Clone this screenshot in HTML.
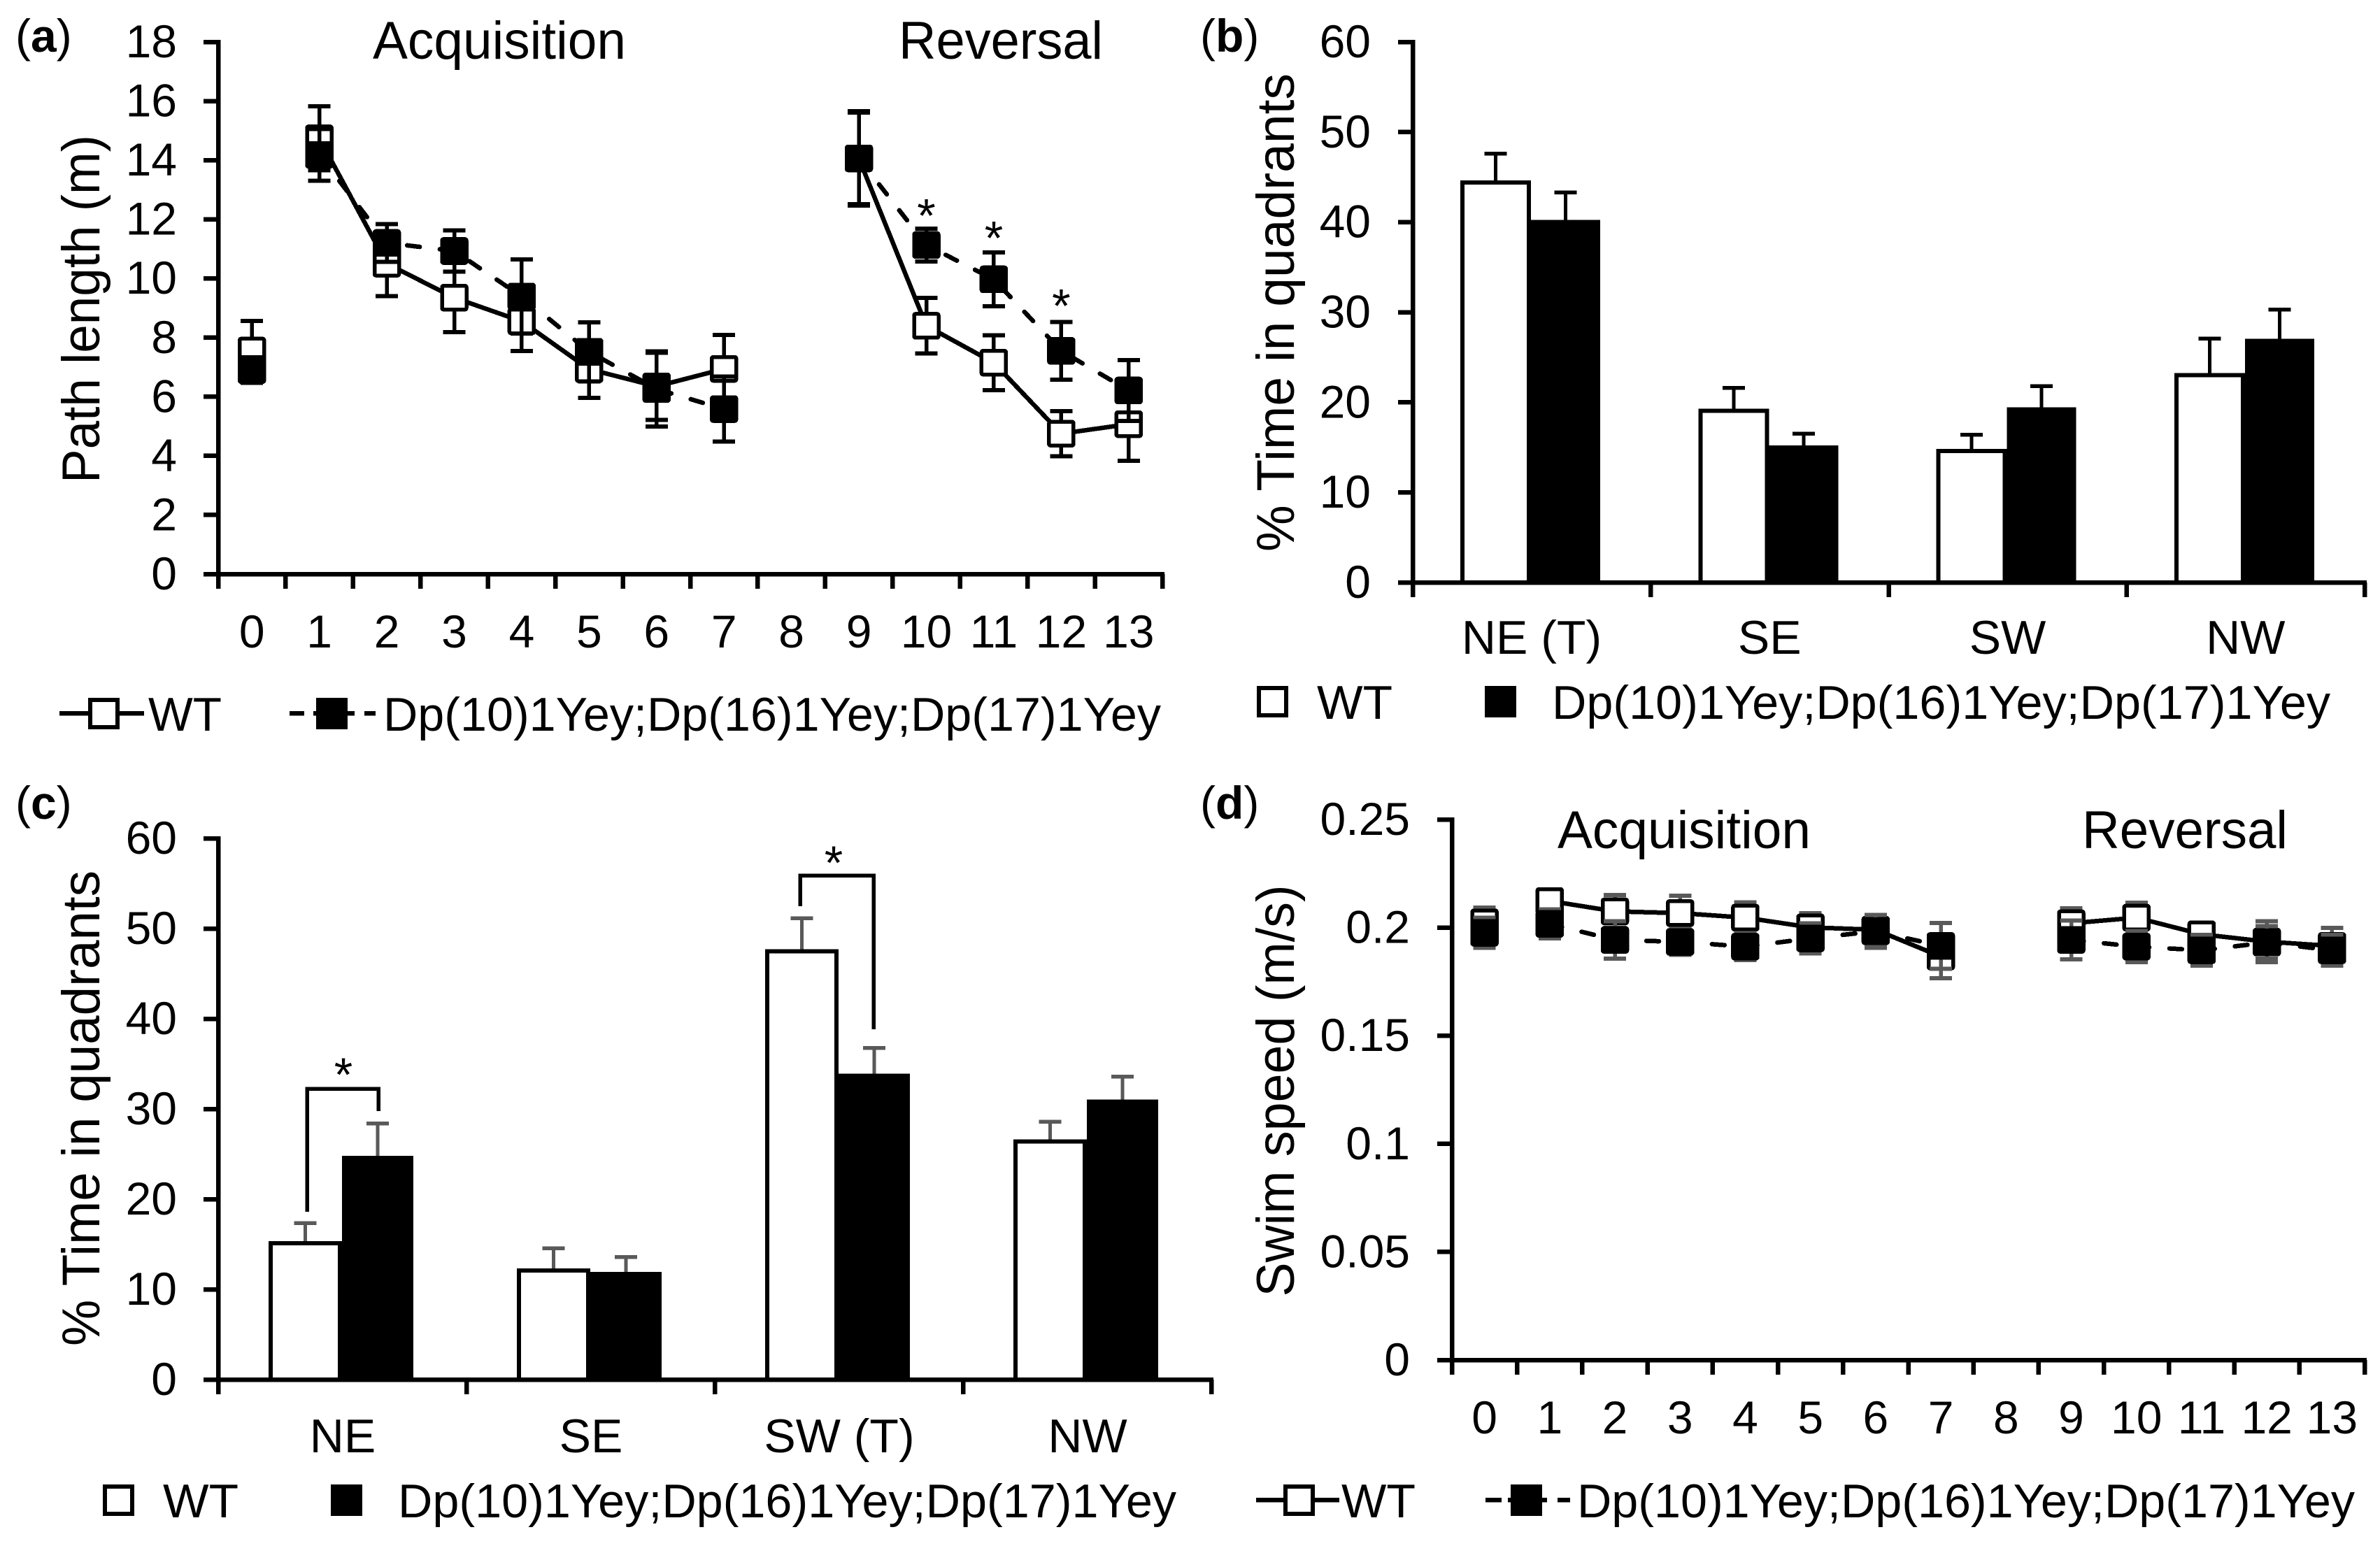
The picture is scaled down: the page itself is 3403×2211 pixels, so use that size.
<!DOCTYPE html>
<html>
<head>
<meta charset="utf-8">
<title>Path length, quadrant time and swim speed panels</title>
<style>
html,body{margin:0;padding:0;background:#fff;}
svg{display:block;}
text{font-family:"Liberation Sans",sans-serif;fill:#000;}
</style>
</head>
<body>
<svg id="fig" xmlns="http://www.w3.org/2000/svg" width="3403" height="2211" viewBox="0 0 3403 2211">
<rect x="0" y="0" width="3403" height="2211" fill="#fff"/>

<text x="22" y="74" font-size="66">(<tspan font-weight="bold">a</tspan>)</text>
<text x="1716" y="74" font-size="66">(<tspan font-weight="bold">b</tspan>)</text>
<text x="22" y="1171" font-size="66">(<tspan font-weight="bold">c</tspan>)</text>
<text x="1716" y="1171" font-size="66">(<tspan font-weight="bold">d</tspan>)</text>

<text transform="translate(142,442) rotate(-90)" text-anchor="middle" font-size="76" textLength="498" lengthAdjust="spacingAndGlyphs">Path length (m)</text>
<text transform="translate(1850,447) rotate(-90)" text-anchor="middle" font-size="76" textLength="684" lengthAdjust="spacingAndGlyphs">% Time in quadrants</text>
<text transform="translate(142,1585) rotate(-90)" text-anchor="middle" font-size="76" textLength="680" lengthAdjust="spacingAndGlyphs">% Time in quadrants</text>
<text transform="translate(1850,1560) rotate(-90)" text-anchor="middle" font-size="76" textLength="589" lengthAdjust="spacingAndGlyphs">Swim speed (m/s)</text>

<text x="533" y="84" font-size="76" textLength="362" lengthAdjust="spacingAndGlyphs">Acquisition</text>
<text x="1285" y="84" font-size="76" textLength="292" lengthAdjust="spacingAndGlyphs">Reversal</text>
<text x="2227" y="1213" font-size="76" textLength="362" lengthAdjust="spacingAndGlyphs">Acquisition</text>
<text x="2977" y="1213" font-size="76" textLength="294" lengthAdjust="spacingAndGlyphs">Reversal</text>

<!-- Legend a -->
<g shape-rendering="crispEdges">
  <line x1="85" y1="1020" x2="206" y2="1020" stroke="#000" stroke-width="6.5"/>
  <rect x="129" y="1001" width="39" height="39" fill="#fff" stroke="#000" stroke-width="6"/>
  <text x="212" y="1045" font-size="68" textLength="105" lengthAdjust="spacingAndGlyphs">WT</text>
  <line x1="414" y1="1020" x2="435" y2="1020" stroke="#000" stroke-width="6.5"/>
  <line x1="448" y1="1020" x2="507" y2="1020" stroke="#000" stroke-width="6.5"/>
  <rect x="452" y="998" width="45" height="45" fill="#000"/>
  <line x1="521" y1="1020" x2="537" y2="1020" stroke="#000" stroke-width="6.5"/>
  <text x="548" y="1045" font-size="68" textLength="1112" lengthAdjust="spacingAndGlyphs">Dp(10)1Yey;Dp(16)1Yey;Dp(17)1Yey</text>
</g>
<!-- Legend b -->
<g shape-rendering="crispEdges">
  <rect x="1800" y="984" width="39" height="39" fill="#fff" stroke="#000" stroke-width="6"/>
  <text x="1883" y="1028" font-size="68" textLength="108" lengthAdjust="spacingAndGlyphs">WT</text>
  <rect x="2123" y="981" width="45" height="45" fill="#000"/>
  <text x="2219" y="1028" font-size="68" textLength="1113" lengthAdjust="spacingAndGlyphs">Dp(10)1Yey;Dp(16)1Yey;Dp(17)1Yey</text>
</g>
<!-- Legend c -->
<g shape-rendering="crispEdges">
  <rect x="150" y="2126" width="39" height="39" fill="#fff" stroke="#000" stroke-width="6"/>
  <text x="233" y="2170" font-size="68" textLength="108" lengthAdjust="spacingAndGlyphs">WT</text>
  <rect x="473" y="2123" width="45" height="45" fill="#000"/>
  <text x="569" y="2170" font-size="68" textLength="1113" lengthAdjust="spacingAndGlyphs">Dp(10)1Yey;Dp(16)1Yey;Dp(17)1Yey</text>
</g>
<!-- Legend d -->
<g shape-rendering="crispEdges">
  <line x1="1796" y1="2145" x2="1915" y2="2145" stroke="#000" stroke-width="6.5"/>
  <rect x="1838" y="2126" width="39" height="39" fill="#fff" stroke="#000" stroke-width="6"/>
  <text x="1918" y="2170" font-size="68" textLength="106" lengthAdjust="spacingAndGlyphs">WT</text>
  <line x1="2124" y1="2145" x2="2147" y2="2145" stroke="#000" stroke-width="6.5"/>
  <line x1="2156" y1="2145" x2="2212" y2="2145" stroke="#000" stroke-width="6.5"/>
  <rect x="2160" y="2123" width="45" height="45" fill="#000"/>
  <line x1="2227" y1="2145" x2="2245" y2="2145" stroke="#000" stroke-width="6.5"/>
  <text x="2255" y="2170" font-size="68" textLength="1112" lengthAdjust="spacingAndGlyphs">Dp(10)1Yey;Dp(16)1Yey;Dp(17)1Yey</text>
</g>
</svg>

<script>
var dayLabels = ['0','1','2','3','4','5','6','7','8','9','10','11','12','13'];
var lineSegments = [[1,2,3,4,5,6,7],[9,10,11,12,13]];

var aTicks = ['0','2','4','6','8','10','12','14','16','18'];
var aWt = [7.56,14.74,10.5,9.35,8.55,6.93,6.35,6.94,null,14.06,8.4,7.15,4.75,5.07];
var aWtErr = [1.0,1.08,1.1,1.17,1.0,0.97,1.14,1.15,null,1.55,0.94,0.93,0.76,1.24];
var aKo = [6.9,14.18,11.2,10.93,9.39,7.52,6.26,5.58,null,14.06,11.13,9.97,7.55,6.21];
var aKoErr = [0.43,0.88,0.64,0.7,1.25,1.0,1.27,1.1,null,1.6,0.56,0.91,0.98,1.03];
var aStarDays = [10,11,12];
var aStarValues = [12.45,11.7,9.4];

var dTicks = ['0','0.05','0.1','0.15','0.2','0.25'];
var dWt = [0.2024,0.2123,0.2075,0.2067,0.2046,0.2001,0.199,0.1866,null,0.202,0.2046,0.1969,0.1935,0.1915];
var dWtErr = [0.0068,0.004,0.0075,0.008,0.007,0.0065,0.0066,0.01,null,0.0069,0.0069,0.004,0.0095,0.0083];
var dKo = [0.1976,0.2017,0.1943,0.1934,0.1912,0.195,0.1983,0.1915,null,0.1943,0.1912,0.1895,0.1931,0.1895];
var dKoErr = [0.0069,0.0067,0.0087,0.006,0.0062,0.007,0.0076,0.0106,null,0.009,0.0072,0.0071,0.0075,0.0071];

var barTicks = ['0','10','20','30','40','50','60'];
var bCategories = ['NE (T)','SE','SW','NW'];
var bWt = [44.4,19.05,14.6,23.0];
var bWtErr = [3.2,2.55,1.8,4.06];
var bKo = [40.0,15.0,19.2,26.8];
var bKoErr = [3.3,1.5,2.6,3.5];

var cCategories = ['NE','SE','SW (T)','NW'];
var cWt = [15.1,12.1,47.5,26.4];
var cWtErr = [2.26,2.46,3.65,2.2];
var cKo = [24.56,11.7,33.7,30.8];
var cKoErr = [3.84,1.87,3.06,2.8];

var NS = 'http://www.w3.org/2000/svg';
var fig = document.getElementById('fig');

function mk(tag, attrs, parent) {
  var el = document.createElementNS(NS, tag);
  for (var k in attrs) { el.setAttribute(k, attrs[k]); }
  (parent || fig).appendChild(el);
  return el;
}
function group(parent) {
  return mk('g', {'shape-rendering':'crispEdges'}, parent);
}
function hLine(p, x1, x2, y, color, w) {
  return mk('line', {x1:x1, x2:x2, y1:y, y2:y, stroke:color, 'stroke-width':w}, p);
}
function vLine(p, x, y1, y2, color, w) {
  return mk('line', {x1:x, x2:x, y1:y1, y2:y2, stroke:color, 'stroke-width':w}, p);
}

function drawAxes(cfg, key) {
  var g = group();
  
  
  var yAxis = vLine(g, cfg.x0, cfg.yTop - 3, cfg.yBot + 3, '#000', 6.5);
  
  
  var xAxis = hLine(g, cfg.x0 - 21, cfg.x1 + 3, cfg.yBot, '#000', 6.5);
  
  
  cfg.ticks.forEach(function (t, i) {
    var y = cfg.yBot - (cfg.yBot - cfg.yTop) * i / (cfg.ticks.length - 1);
    var tk = hLine(g, cfg.x0 - 21, cfg.x0, y, '#000', 6.5);
    
    
    var lb = mk('text', {x:cfg.labelRight, y:y + 22, 'font-size':66, 'text-anchor':'end'});
    lb.textContent = t;
    
    
  });
  var step = (cfg.x1 - cfg.x0) / cfg.categories.length;
  for (var i = 0; i <= cfg.categories.length; i++) {
    var tx = vLine(g, cfg.x0 + step * i, cfg.yBot, cfg.yBot + 21, '#000', 6.5);
    
    
  }
}

function drawSeries(cfg, key, name, vals, errs, isKo) {
  var step = (cfg.x1 - cfg.x0) / vals.length;
  function X(i) { return cfg.x0 + step * (i + 0.5); }
  function Y(v) { return cfg.yBot - (cfg.yBot - cfg.yTop) * v / cfg.max; }
  var g = group();
  
  
  lineSegments.forEach(function (seg) {
    var d = seg.map(function (i, n) { return (n ? 'L' : 'M') + X(i) + ' ' + Y(vals[i]); }).join(' ');
    var path = mk('path', {d:d, fill:'none', stroke:'#000', 'stroke-width':6.5,
      'stroke-linejoin':'round', 'stroke-linecap': isKo ? 'round' : 'butt',
      'stroke-dasharray': isKo ? '18 29' : 'none'}, g);
    
    
  });
  vals.forEach(function (v, i) {
    if (v === null) return;
    var x = X(i), hi = Y(v + errs[i]), lo = Y(v - errs[i]);
    var stem = vLine(g, x, hi, lo, cfg.errColor, 5.5);
    
    
    var capT = hLine(g, x - 16, x + 16, hi, cfg.errColor, 6);
    
    
    var capB = hLine(g, x - 16, x + 16, lo, cfg.errColor, 6);
    
    
  });
  vals.forEach(function (v, i) {
    if (v === null) return;
    var m = mk('rect', {x:X(i) - 17.5, y:Y(v) - 17, width:35, height:34, rx:2,
      fill: isKo ? '#000' : '#fff', stroke:'#000', 'stroke-width':5.5}, g);
    
    
  });
}

function drawLinePanel(cfg, key, wt, wtE, ko, koE) {
  drawAxes(cfg, key);
  drawSeries(cfg, key, 'wt', wt, wtE, false);
  drawSeries(cfg, key, 'ko', ko, koE, true);
  var step = (cfg.x1 - cfg.x0) / cfg.categories.length;
  cfg.categories.forEach(function (c, i) {
    var t = mk('text', {x:cfg.x0 + step * (i + 0.5), y:cfg.xLabelY, 'font-size':66, 'text-anchor':'middle'});
    t.textContent = c;
    
    
  });
}

function drawBarPanel(cfg, key, wt, wtE, ko, koE) {
  var step = (cfg.x1 - cfg.x0) / cfg.categories.length;
  function Y(v) { return cfg.yBot - (cfg.yBot - cfg.yTop) * v / cfg.max; }
  var g = group();
  
  
  cfg.categories.forEach(function (c, i) {
    var left = cfg.x0 + step * i + cfg.pad;
    [[wt[i], wtE[i], left, cfg.wtW, '#fff', 'wt'], [ko[i], koE[i], left + cfg.wtW, cfg.koW, '#000', 'ko']].forEach(function (s) {
      var w = s[3], xc = s[2] + w / 2, top = Y(s[0]), hi = Y(s[0] + s[1]);
      var stem = vLine(g, xc, hi, top, cfg.errColor, 5);
      
      
      var cap = hLine(g, xc - 16, xc + 16, hi, cfg.errColor, 5.5);
      
      
      var bar = mk('rect', {x:s[2] + 3, y:top, width:w - 6, height:cfg.yBot - top, fill:s[4], stroke:'#000', 'stroke-width':6}, g);
      
      
    });
    var t = mk('text', {x:cfg.x0 + step * i + cfg.labelOffset, y:cfg.xLabelY, 'font-size':68, 'text-anchor':'middle'});
    t.textContent = c;
    
    
  });
  drawAxes(cfg, key);
}

function star(x, y, nm) {
  var t = mk('text', {x:x, y:y + 37, 'font-size':68, 'text-anchor':'middle'});
  t.textContent = '*';
  
  
}
function bracket(x1, yb1, x2, yb2, yt, nm) {
  var p = mk('path', {d:'M' + x1 + ' ' + yb1 + ' V' + yt + ' H' + x2 + ' V' + yb2, fill:'none', stroke:'#000', 'stroke-width':5.5, 'shape-rendering':'crispEdges'});
  
  
}

var cfgA = {x0:312, x1:1662, yTop:60, yBot:821, max:18, ticks:aTicks, categories:dayLabels, labelRight:253, xLabelY:926, errColor:'#000'};
drawLinePanel(cfgA, 'panel-a', aWt, aWtErr, aKo, aKoErr);
aStarDays.forEach(function (d, i) {
  var sx = cfgA.x0 + (cfgA.x1 - cfgA.x0) / dayLabels.length * (d + 0.5);
  var sy = cfgA.yBot - (cfgA.yBot - cfgA.yTop) * aStarValues[i] / cfgA.max;
  star(sx, sy, 'significance-star-a');
});

var cfgD = {x0:2076, x1:3381, yTop:1172, yBot:1945, max:0.25, ticks:dTicks, categories:dayLabels, labelRight:2016, xLabelY:2050, errColor:'#595959'};
drawLinePanel(cfgD, 'panel-d', dWt, dWtErr, dKo, dKoErr);

var cfgB = {x0:2020, x1:3381, yTop:60, yBot:833, max:60, ticks:barTicks, categories:bCategories, labelRight:1960, xLabelY:935, errColor:'#000', pad:68, wtW:101, koW:99, labelOffset:170};
drawBarPanel(cfgB, 'panel-b', bWt, bWtErr, bKo, bKoErr);

var cfgC = {x0:312, x1:1732, yTop:1199, yBot:1973, max:60, ticks:barTicks, categories:cCategories, labelRight:253, xLabelY:2077, errColor:'#595959', pad:72, wtW:105, koW:102, labelOffset:178};
drawBarPanel(cfgC, 'panel-c', cWt, cWtErr, cKo, cKoErr);

bracket(439, 1733, 541, 1589, 1557, 'significance-bracket-ne');
bracket(1144, 1296, 1249, 1472, 1252, 'significance-bracket-sw');
star(491, 1523, 'significance-star-ne');
star(1192, 1220, 'significance-star-sw');
</script>
</body>
</html>
